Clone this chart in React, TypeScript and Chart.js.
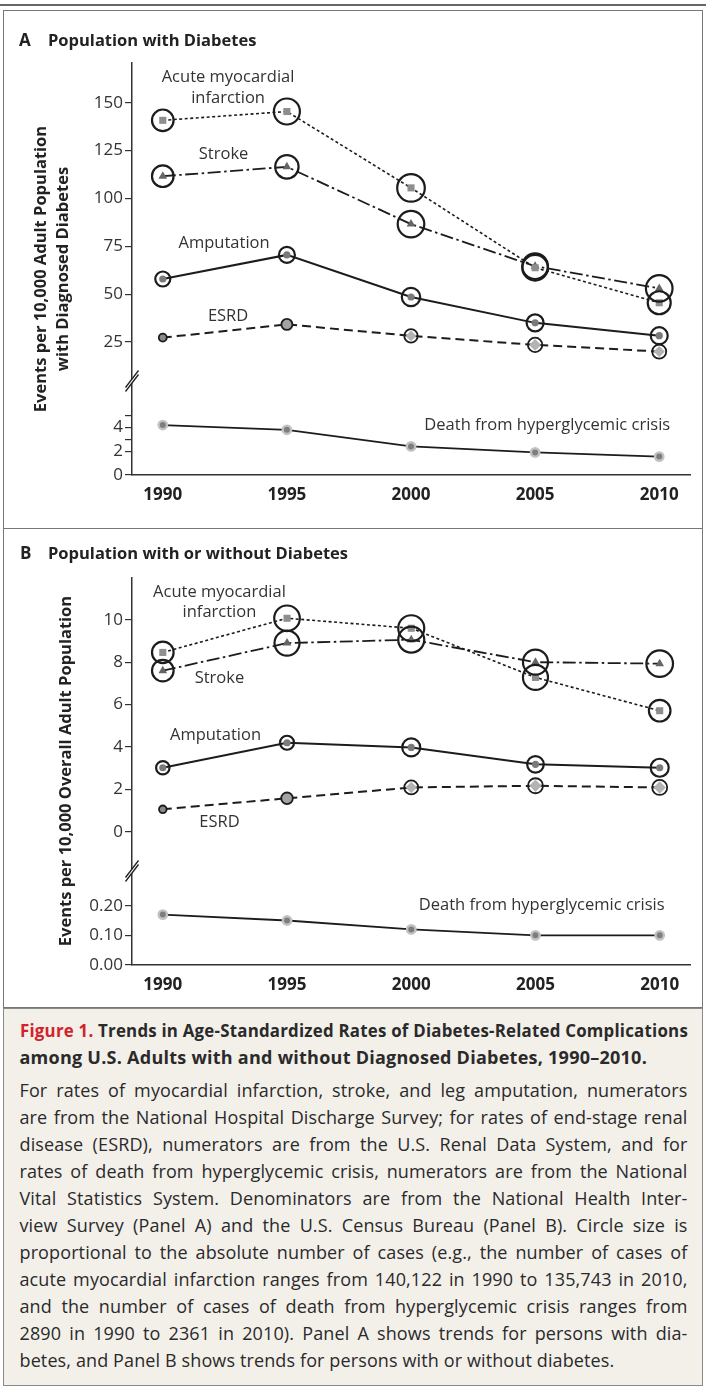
import React, { useEffect, useLayoutEffect, useRef } from 'react';
import { Chart, registerables } from 'chart.js';
Chart.register(...registerables);

const FONT = '"Open Sans", "DejaVu Sans", sans-serif';

// ---------- data ----------
const years = [1990, 1995, 2000, 2005, 2010];

// Panel A: events per 10,000 adults with diagnosed diabetes
const amiA = [140.8, 145.4, 105.5, 63.8, 45.5];
const strokeA = [111.6, 116.5, 86.6, 64.6, 53.0];
const amputationA = [57.9, 70.5, 48.5, 35.0, 28.3];
const esrdA = [27.3, 34.2, 28.2, 23.5, 20.0];
const deathA = [4.2, 3.8, 2.4, 1.9, 1.55];
// circle radius (proportional to number of cases)
const amiCasesA = [10.8, 13, 13.8, 12.8, 11.5];
const strokeCasesA = [10.8, 11.7, 13.3, 12.8, 13.3];
const amputationCasesA = [7.5, 8, 9.2, 8.5, 8.5];
const esrdCasesA = [4, 5.5, 6.7, 7.2, 7];

// Panel B: events per 10,000 overall adult population
const amiB = [8.46, 10.07, 9.6, 7.28, 5.71];
const strokeB = [7.6, 8.9, 9.06, 8.0, 7.93];
const amputationB = [3.02, 4.2, 3.98, 3.18, 3.02];
const esrdB = [1.06, 1.58, 2.09, 2.17, 2.09];
const deathB = [0.17, 0.15, 0.12, 0.10, 0.10];
const amiCasesB = [10.8, 12.8, 13, 12.5, 10.8];
const strokeCasesB = [10.8, 12.5, 13, 12.5, 13.3];
const amputationCasesB = [6.7, 7, 9, 8.3, 9];
const esrdCasesB = [3.8, 5.8, 7, 7.5, 7.5];

// tick values
const upperTicksA = [25, 50, 75, 100, 125, 150];
const lowerTicksA = [0, 2, 3, 4, 5];
const lowerLabelsA = [0, 2, 4];
const upperTicksB = [0, 2, 4, 6, 8, 10];
const lowerTicksB = [0, 0.1, 0.2];

// series labels
const labelsA = [
  { text: 'Acute myocardial', x: 1992.63, y: 163.4, axis: 'yTop' },
  { text: 'infarction', x: 1992.63, y: 152.5, axis: 'yTop' },
  { text: 'Stroke', x: 1992.45, y: 123.2, axis: 'yTop' },
  { text: 'Amputation', x: 1992.47, y: 76.3, axis: 'yTop' },
  { text: 'ESRD', x: 1992.63, y: 38.2, axis: 'yTop' },
  { text: 'Death from hyperglycemic crisis', x: 2005.49, y: 4.2, axis: 'yBot' },
];
const labelsB = [
  { text: 'Acute myocardial', x: 1992.28, y: 11.29, axis: 'yTop' },
  { text: 'infarction', x: 1992.28, y: 10.33, axis: 'yTop' },
  { text: 'Stroke', x: 1992.28, y: 7.22, axis: 'yTop' },
  { text: 'Amputation', x: 1992.12, y: 4.54, axis: 'yTop' },
  { text: 'ESRD', x: 1992.28, y: 0.46, axis: 'yTop' },
  { text: 'Death from hyperglycemic crisis', x: 2005.25, y: 0.202, axis: 'yBot' },
];

// ---------- helpers ----------
const pts = (vals: number[]) => years.map((x, i) => ({ x, y: vals[i] }));
const bubbles = (vals: number[], r: number[]) => years.map((x, i) => ({ x, y: vals[i], r: r[i] }));
const INK = '#1c1c1c';

function ring(vals: number[], r: number[], axis: string, w = 2.2) {
  return {
    type: 'bubble', data: bubbles(vals, r), yAxisID: axis, order: 0,
    backgroundColor: 'rgba(0,0,0,0)', borderColor: INK, borderWidth: w, clip: false,
  };
}
function line(vals: number[], axis: string, extra: any) {
  return {
    type: 'line', data: pts(vals), yAxisID: axis, order: 1, borderColor: INK,
    tension: 0, clip: false, pointBorderWidth: 0, ...extra,
  };
}

function seriesDatasets(ami: number[], stroke: number[], amp: number[], esrd: number[], death: number[],
  amiR: number[], strokeR: number[], ampR: number[], esrdR: number[]) {
  return [
    ring(ami, amiR, 'yTop'),
    ring(stroke, strokeR, 'yTop'),
    ring(amp, ampR, 'yTop'),
    ring(esrd, esrdR, 'yTop', 1.8),
    line(ami, 'yTop', { borderWidth: 1.6, borderDash: [3, 2.5], pointStyle: 'rect', pointRadius: 5, pointBackgroundColor: '#8e8e8e' }),
    line(stroke, 'yTop', { borderWidth: 1.8, borderDash: [13, 3.5, 2.5, 3.5], pointStyle: 'triangle', pointRadius: 5, pointBackgroundColor: '#666' }),
    line(amp, 'yTop', { borderWidth: 2, pointStyle: 'circle', pointRadius: 3.6, pointBackgroundColor: '#7a7a7a' }),
    line(esrd, 'yTop', {
      borderWidth: 2, borderDash: [9, 5],
      pointStyle: esrdR.map((r) => (r < 6 ? 'circle' : 'rectRot')),
      pointRadius: esrdR.map((r) => (r < 6 ? r : r - 1.3)),
      pointBackgroundColor: esrdR.map((r) => (r < 5 ? '#8a8a8a' : r < 6 ? '#a3a3a3' : '#b3b3b3')),
    }),
    line(death, 'yBot', { borderWidth: 1.8, pointStyle: 'circle', pointRadius: 4.2, pointBackgroundColor: '#7e7e7e', pointBorderColor: '#c2c2c2', pointBorderWidth: 2.4 }),
  ];
}

const textPlugin = {
  id: 'seriesText',
  afterDatasetsDraw(chart: any, _a: any, opts: any) {
    const ctx = chart.ctx;
    ctx.save();
    ctx.font = `16.5px ${FONT}`;
    ctx.fillStyle = '#333';
    ctx.textAlign = 'center';
    ctx.textBaseline = 'middle';
    for (const l of opts.items || []) {
      ctx.fillText(l.text, chart.scales.x.getPixelForValue(l.x), chart.scales[l.axis].getPixelForValue(l.y));
    }
    ctx.restore();
  },
};

const breakPlugin = {
  id: 'axisBreak',
  afterDraw(chart: any) {
    const ctx = chart.ctx;
    const x = chart.chartArea.left;
    const y = chart.scales.yBot.top;
    const dx = 6.5, dy = 8.5, g = 2;
    ctx.save();
    ctx.fillStyle = '#fff';
    ctx.beginPath();
    ctx.moveTo(x - dx, y + dy - g);
    ctx.lineTo(x + dx, y - dy - g);
    ctx.lineTo(x + dx, y - dy + g);
    ctx.lineTo(x - dx, y + dy + g);
    ctx.closePath();
    ctx.fill();
    ctx.strokeStyle = '#222';
    ctx.lineWidth = 1.3;
    ctx.beginPath();
    ctx.moveTo(x - dx, y + dy - g); ctx.lineTo(x + dx, y - dy - g);
    ctx.moveTo(x - dx, y + dy + g); ctx.lineTo(x + dx, y - dy + g);
    ctx.stroke();
    ctx.restore();
  },
};

function yScale(stack: string, weight: number, min: number, max: number, ticks: number[], fmt: (v: number) => string) {
  return {
    type: 'linear', position: 'left', stack, stackWeight: weight, min, max,
    afterBuildTicks: (s: any) => { s.ticks = ticks.map((value) => ({ value })); },
    afterFit: (s: any) => { s.width = 132; },
    grid: { drawOnChartArea: false, drawTicks: true, tickLength: 7, color: '#333', lineWidth: 1.2 },
    border: { color: '#333', width: 1.5 },
    ticks: { autoSkip: false, font: { family: FONT, size: 17 }, color: '#333', padding: 2, callback: (v: number) => fmt(v) },
  };
}

function makeConfig(p: any) {
  return {
    type: 'line',
    data: { datasets: p.datasets },
    plugins: [textPlugin, breakPlugin],
    options: {
      responsive: false, animation: false, devicePixelRatio: 1, events: [],
      layout: { padding: { left: 0, right: 11, top: p.padTop, bottom: 0 } },
      plugins: { legend: { display: false }, tooltip: { enabled: false }, seriesText: { items: p.labels } },
      scales: {
        x: {
          type: 'linear', min: 1988.76, max: 2011.24,
          afterBuildTicks: (s: any) => { s.ticks = years.map((value) => ({ value })); },
          afterFit: (s: any) => { s.height = p.xHeight; },
          grid: { drawOnChartArea: false, drawTicks: false },
          border: { color: '#333', width: 1.5 },
          ticks: { autoSkip: false, font: { family: FONT, size: 17, weight: 'bold' }, color: '#222', padding: 10, maxRotation: 0, callback: (v: number) => String(v) },
        },
        // first stacked scale is placed at the bottom
        yBot: yScale('s', p.botWeight, 0, p.botMax, p.botTicks, p.botFmt),
        yTop: yScale('s', p.topWeight, p.topMin, p.topMax, p.topTicks, p.topFmt),
      },
    },
  };
}

const configA = () => makeConfig({
  datasets: seriesDatasets(amiA, strokeA, amputationA, esrdA, deathA, amiCasesA, strokeCasesA, amputationCasesA, esrdCasesA),
  labels: labelsA, padTop: 52, xHeight: 53,
  topWeight: 318, topMin: 4.63, topMax: 170.74, topTicks: upperTicksA, topFmt: (v: number) => String(v),
  botWeight: 94, botMax: 7.9, botTicks: lowerTicksA, botFmt: (v: number) => (lowerLabelsA.includes(v) ? String(v) : ''),
});
const configB = () => makeConfig({
  datasets: seriesDatasets(amiB, strokeB, amputationB, esrdB, deathB, amiCasesB, strokeCasesB, amputationCasesB, esrdCasesB),
  labels: labelsB, padTop: 48, xHeight: 42,
  topWeight: 293, topMin: -1.85, topMax: 11.97, topTicks: upperTicksB, topFmt: (v: number) => String(v),
  botWeight: 94, botMax: 0.317, botTicks: lowerTicksB, botFmt: (v: number) => v.toFixed(2),
});

function ChartCanvas({ make, top, height }: { make: () => any; top: number; height: number }) {
  const ref = useRef<HTMLCanvasElement>(null);
  useEffect(() => {
    const c = new Chart(ref.current as HTMLCanvasElement, make());
    return () => c.destroy();
  }, []);
  return <canvas ref={ref} width={706} height={height} style={{ position: 'absolute', left: 0, top, width: 706, height }} />;
}

// ---------- caption ----------
const TARGET = 668;
function FitLine({ children, full, bold }: { children: any; full: boolean; bold?: boolean }) {
  const ref = useRef<HTMLSpanElement>(null);
  useLayoutEffect(() => {
    const el = ref.current!;
    el.style.transform = '';
    el.style.width = 'auto';
    const w = el.getBoundingClientRect().width;
    if (w > TARGET) {
      el.style.transform = `scaleX(${TARGET / w})`;
    } else if (full) {
      el.style.width = TARGET + 'px';
    }
  });
  return (
    <div style={{ height: 27, lineHeight: '27px', whiteSpace: 'nowrap' }}>
      <span ref={ref} style={{
        display: 'inline-block', transformOrigin: '0 50%', textAlign: 'justify', textAlignLast: full ? 'justify' : 'left',
        fontWeight: bold ? 700 : 400, fontSize: 18, letterSpacing: bold ? '0.25px' : '0.12px',
      } as any}>{children}</span>
    </div>
  );
}

const bodyLines = [
  'For rates of myocardial infarction, stroke, and leg amputation, numerators',
  'are from the National Hospital Discharge Survey; for rates of end-stage renal',
  'disease (ESRD), numerators are from the U.S. Renal Data System, and for',
  'rates of death from hyperglycemic crisis, numerators are from the National',
  'Vital Statistics System. Denominators are from the National Health Inter-',
  'view Survey (Panel A) and the U.S. Census Bureau (Panel B). Circle size is',
  'proportional to the absolute number of cases (e.g., the number of cases of',
  'acute myocardial infarction ranges from 140,122 in 1990 to 135,743 in 2010,',
  'and the number of cases of death from hyperglycemic crisis ranges from',
  '2890 in 1990 to 2361 in 2010). Panel A shows trends for persons with dia-',
  'betes, and Panel B shows trends for persons with or without diabetes.',
];

function Rotated({ text, cx, cy }: { text: string; cx: number; cy: number }) {
  const W = 460;
  return (
    <div style={{ position: 'absolute', left: cx - W / 2, top: cy - 11, width: W, height: 22, lineHeight: '22px', textAlign: 'center', transform: 'rotate(-90deg)', fontWeight: 700, fontSize: 16.5, color: '#222', whiteSpace: 'nowrap' }}>{text}</div>
  );
}

export default function App() {
  const border = '1.5px solid #777';
  return (
    <div style={{ position: 'absolute', left: 0, top: 0, width: 706, height: 1389, background: '#fff', fontFamily: FONT, color: '#222', overflow: 'hidden' }}>
      <div style={{ position: 'absolute', left: 0, top: 3.5, width: 706, height: 2.5, background: '#666' }} />
      <div style={{ position: 'absolute', left: 3, top: 10, width: 700, height: 519, border, boxSizing: 'border-box' }} />
      <div style={{ position: 'absolute', left: 3, top: 528, width: 700, height: 480, border, boxSizing: 'border-box' }} />

      <ChartCanvas make={configA} top={11} height={517} />
      <ChartCanvas make={configB} top={530} height={477} />

      <div style={{ position: 'absolute', left: 19, top: 28, fontSize: 17, fontWeight: 700, lineHeight: '24px' }}>A</div>
      <div style={{ position: 'absolute', left: 48, top: 28, fontSize: 16.5, fontWeight: 700, lineHeight: '24px' }}>Population with Diabetes</div>
      <div style={{ position: 'absolute', left: 20, top: 541, fontSize: 17, fontWeight: 700, lineHeight: '24px' }}>B</div>
      <div style={{ position: 'absolute', left: 48, top: 541, fontSize: 16.5, fontWeight: 700, lineHeight: '24px' }}>Population with or without Diabetes</div>

      <Rotated text="Events per 10,000 Adult Population" cx={40} cy={269} />
      <Rotated text="with Diagnosed Diabetes" cx={61.5} cy={269} />
      <Rotated text="Events per 10,000 Overall Adult Population" cx={65} cy={771} />

      <div style={{ position: 'absolute', left: 3, top: 1008, width: 700, height: 378, background: '#f3f0ea', border: '1.5px solid #8a8a8a', boxSizing: 'border-box', paddingLeft: 15.5, paddingTop: 8, color: '#2a2a2a' }}>
        <FitLine full bold><span style={{ color: '#d2232a' }}>Figure 1.</span> Trends in Age-Standardized Rates of Diabetes-Related Complications</FitLine>
        <FitLine full={false} bold>among U.S. Adults with and without Diagnosed Diabetes, 1990–2010.</FitLine>
        <div style={{ height: 6 }} />
        {bodyLines.map((t, i) => (
          <FitLine key={i} full={i < bodyLines.length - 1}>{t}</FitLine>
        ))}
      </div>
    </div>
  );
}
